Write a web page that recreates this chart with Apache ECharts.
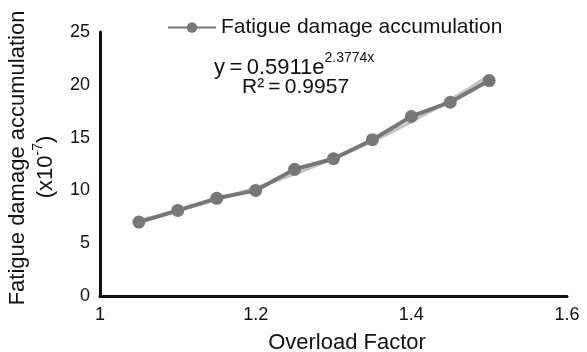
<!DOCTYPE html>
<html>
<head>
<meta charset="utf-8">
<script src="https://cdn.jsdelivr.net/npm/echarts@6/dist/echarts.min.js"></script>
<style>
  html, body { margin: 0; padding: 0; background: #fff; }
  #chart { width: 587px; height: 352px; }
</style>
</head>
<body>
<div id="chart"></div>
<script>
// values
const overloadFactor = [1.05, 1.1, 1.15, 1.2, 1.25, 1.3, 1.35, 1.4, 1.45, 1.5]
const damage = [7.0, 8.1, 9.25, 10.0, 12.0, 13.0, 14.8, 17.0, 18.35, 20.4]
const trendValues = [7.17, 8.08, 9.1, 10.25, 11.54, 13.0, 14.64, 16.49, 18.57, 20.91]
const xTicks = [1, 1.2, 1.4, 1.6]
const yTicks = [0, 5, 10, 15, 20, 25]

const font = 'Liberation Sans, Arial, Helvetica, sans-serif'
const chart = echarts.init(document.getElementById('chart'), null, { renderer: 'canvas' })

chart.setOption({
  animation: false,
  textStyle: { fontFamily: font, color: '#111' },
  grid: { left: 100, right: 20, top: 32, bottom: 56, containLabel: false, outerBoundsMode: 'none' },
  legend: {
    data: ['Fatigue damage accumulation'],
    left: 162, top: 12,
    itemWidth: 48, itemHeight: 13, itemGap: 4,
    textStyle: { fontSize: 21, color: '#111', fontFamily: font }
  },
  xAxis: {
    type: 'value', min: xTicks[0], max: xTicks[xTicks.length - 1], interval: 0.2,
    name: 'Overload Factor', nameLocation: 'middle', nameGap: 36,
    nameTextStyle: { fontSize: 22, color: '#111', padding: [0, 0, 0, 27] },
    axisLine: { lineStyle: { color: '#111', width: 3 } },
    axisTick: { show: false },
    splitLine: { show: false },
    axisLabel: { fontSize: 18, color: '#111', margin: 10, formatter: v => String(+v.toFixed(1)) }
  },
  yAxis: {
    type: 'value', min: yTicks[0], max: yTicks[yTicks.length - 1], interval: 5,
    axisLine: { show: true, lineStyle: { color: '#111', width: 3 } },
    axisTick: { show: false },
    splitLine: { show: false },
    axisLabel: { fontSize: 18, color: '#111', margin: 10 }
  },
  graphic: [
    {
      type: 'text', x: 18, y: 158, rotation: Math.PI / 2,
      style: { text: 'Fatigue damage accumulation', font: '22px ' + font, fill: '#111', align: 'center', verticalAlign: 'middle' }
    },
    {
      type: 'text', x: 44, y: 167, rotation: Math.PI / 2,
      style: {
        text: '{m|(x10}{s|-7}{m|)}', align: 'center', verticalAlign: 'middle', fill: '#111',
        rich: {
          m: { fontSize: 22, fontFamily: font, fill: '#111', lineHeight: 26, verticalAlign: 'bottom' },
          s: { fontSize: 14, fontFamily: font, fill: '#111', lineHeight: 26, verticalAlign: 'top' }
        }
      }
    },
    {
      type: 'text', x: 214, y: 65,
      style: {
        text: '{m|y\u2009=\u20090.5911e}{s|2.3774x}', verticalAlign: 'middle', fill: '#111',
        rich: {
          m: { fontSize: 22, fontFamily: font, fill: '#111', lineHeight: 28, verticalAlign: 'bottom' },
          s: { fontSize: 14, fontFamily: font, fill: '#111', lineHeight: 28, verticalAlign: 'top' }
        }
      }
    },
    {
      type: 'text', x: 242, y: 87,
      style: { text: 'R\u00b2\u2009=\u20090.9957', font: '21px ' + font, fill: '#111', verticalAlign: 'middle' }
    }
  ],
  series: [
    {
      name: 'trend', type: 'line', z: 1,
      data: overloadFactor.map((x, i) => [x, trendValues[i]]),
      showSymbol: false, smooth: true,
      lineStyle: { color: '#c4c4c4', width: 3 }
    },
    {
      name: 'Fatigue damage accumulation', type: 'line', z: 2,
      data: overloadFactor.map((x, i) => [x, damage[i]]),
      symbol: 'circle', symbolSize: 13,
      lineStyle: { color: '#777777', width: 4 },
      itemStyle: { color: '#777777' }
    }
  ]
})
</script>
</body>
</html>
